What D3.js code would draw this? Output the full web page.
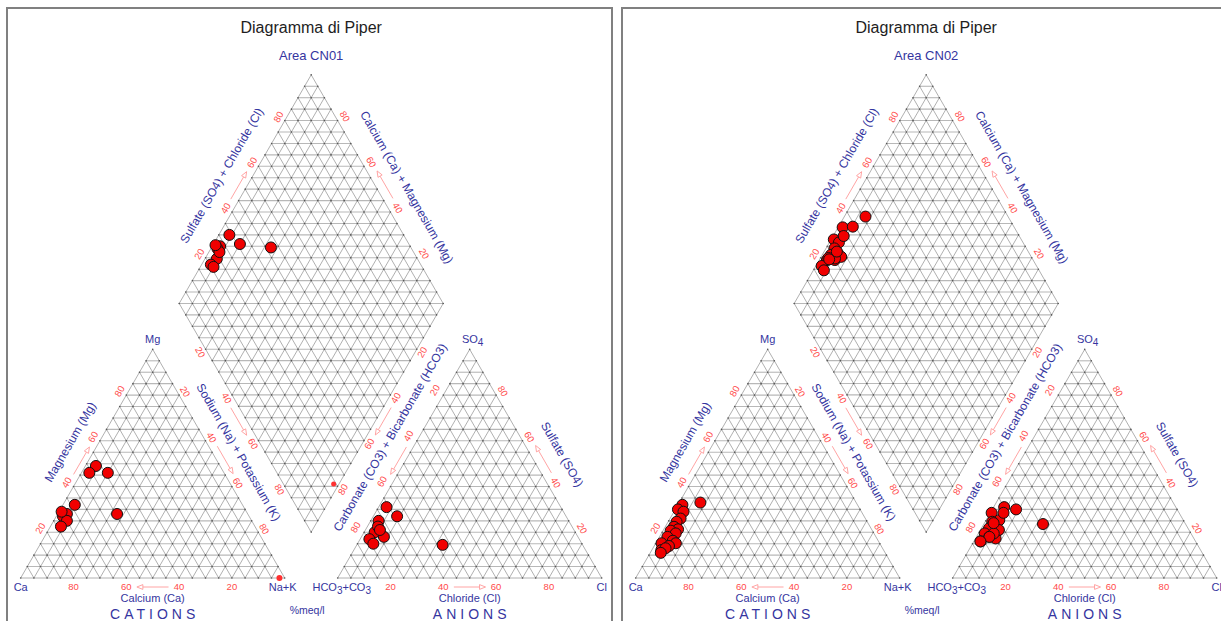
<!DOCTYPE html>
<html><head><meta charset="utf-8">
<script src="https://cdn.jsdelivr.net/npm/d3@7"></script>
<style>
body{margin:0;background:#fff}
svg{display:block}
text{font-family:Arial,"Liberation Sans",sans-serif}
</style>
</head><body>
<svg id="c" width="1221" height="621"></svg>
<script>
// ---------------- data ----------------
const mainTitle = "Diagramma di Piper";
const panelTitles = ["Area CN01", "Area CN02"];
const tickValues = [20, 40, 60, 80];

// Area CN01 samples (% meq/l)
const cn01Mg  = [49, 46, 28, 46, 32, 27, 28, 25, 22.5, 29];
const cn01NaK = [4, 10, 22.5, 3, 4.5, 2.5, 3.5, 5, 4, 1];
const cn01SO4 = [31, 27, 14.5, 25, 20, 18, 17, 15, 22.5, 21];
const cn01Cl  = [3, 9, 32.5, 3, 4, 8.5, 3.5, 6, 4, 5.5];
// incomplete CN01 record (drawn as small dots)
const cn01MinorMg  = [0];
const cn01MinorNaK = [98];
const cn01MinorSC  = [19];

// Area CN02 samples (% meq/l)
const cn02Mg  = [33, 32, 30, 29, 26, 24.6, 22.4, 21.3, 20.7, 19.5, 18, 16.3, 15.2, 15.2, 14, 12.2, 13, 11];
const cn02NaK = [8, 1.7, 1, 3.6, 4, 3.2, 3.3, 5.4, 2.9, 5.4, 3, 5.9, 7.6, 2.2, 5.6, 3.6, 4.8, 4];
const cn02SO4 = [23.6, 31, 28.5, 25.3, 28.5, 24.6, 21.7, 30, 19.5, 20.7, 18, 17.3, 21, 16, 19.5, 18, 24, 16];
const cn02Cl  = [22.4, 4, 0.5, 5, 5, 2.7, 2.9, 9, 2.4, 6.7, 4.9, 7.6, 7, 2.6, 5.8, 4.9, 3.5, 2.5];
const cn02MinorMg = [], cn02MinorNaK = [], cn02MinorSC = [];

// --------------- geometry ---------------
const svg = d3.select("#c");
const navy = "#3535a0", red = "#ff4a4a", arrowCol = "#ff9a9a";
const diagCol = "#969696", horizCol = "#b8b8b8";
const S3 = Math.sqrt(3) / 2;
const L = 264, TH = L * S3, GAP = 53;
const X0 = 20.7, Y0 = 578;
const A = [X0, Y0], B = [X0 + L, Y0], C = [X0 + L / 2, Y0 - TH];
const A2 = [X0 + L + GAP, Y0], B2 = [X0 + 2 * L + GAP, Y0], C2 = [X0 + 1.5 * L + GAP, Y0 - TH];
const DB = [X0 + L + GAP / 2, Y0 - GAP * S3];
const DL = [DB[0] - L / 2, DB[1] - TH], DR = [DB[0] + L / 2, DB[1] - TH], DT = [DB[0], DB[1] - 2 * TH];

const frac = d3.scaleLinear().domain([0, 100]).range([0, 1]);
const lerp = (P, Q, t) => [P[0] + (Q[0] - P[0]) * t, P[1] + (Q[1] - P[1]) * t];
function tern(P0, P1, P2, a1, a2) {
  const t1 = frac(a1), t2 = frac(a2);
  return [P0[0] + (P1[0] - P0[0]) * t1 + (P2[0] - P0[0]) * t2,
          P0[1] + (P1[1] - P0[1]) * t1 + (P2[1] - P0[1]) * t2];
}
const catPos = (mg, nak) => tern(A, C, B, mg, nak);
const anPos = (so4, cl) => tern(A2, C2, B2, so4, cl);
const diaPos = (nak, sc) => tern(DL, DB, DT, nak, sc);
const line = d3.line();

const NL = [-S3, -0.5], NR = [S3, -0.5], NLL = [-S3, 0.5], NLR = [S3, 0.5];

function drawPanel(ox, title, mg, nak, so4, cl, mMg, mNaK, mSC) {
  const g = svg.append("g").attr("transform", `translate(${ox},0)`);
  g.append("rect").attr("x", 7).attr("y", 8).attr("width", 605).attr("height", 640)
    .attr("fill", "#fff").attr("stroke", "#808080").attr("stroke-width", 2);

  g.append("text").attr("x", DB[0]).attr("y", 33).attr("text-anchor", "middle")
    .attr("font-size", 16).attr("fill", "#1e1e1e").text(mainTitle);
  g.append("text").attr("x", DB[0]).attr("y", 60).attr("text-anchor", "middle")
    .attr("font-size", 13).attr("fill", navy).text(title);

  // ---- grids ----
  const hgrid = g.append("g").attr("fill", "none").attr("stroke", horizCol).attr("stroke-width", 1.1);
  const grid = g.append("g").attr("fill", "none").attr("stroke", diagCol).attr("stroke-width", 0.75);
  const dots = [];
  const steps = d3.range(0, 101, 5);
  [catPos, anPos].forEach(f => {
    steps.forEach(v => {
      if (v === 100) return;
      (v === 0 ? grid : hgrid).append("path").attr("d", line([f(v, 0), f(v, 100 - v)]));
      grid.append("path").attr("d", line([f(0, v), f(100 - v, v)]));
      grid.append("path").attr("d", line([f(0, 100 - v), f(100 - v, 0)]));
    });
    steps.forEach(i => steps.forEach(j => { if (i + j <= 100) dots.push(f(i, j)); }));
  });
  steps.forEach(v => {
    grid.append("path").attr("d", line([diaPos(v, 0), diaPos(v, 100)]));
    grid.append("path").attr("d", line([diaPos(0, v), diaPos(100, v)]));
  });
  d3.range(-95, 100, 5).forEach(d => {
    const seg = d >= 0 ? [diaPos(d, 0), diaPos(100, 100 - d)] : [diaPos(0, -d), diaPos(100 + d, 100)];
    hgrid.append("path").attr("d", line(seg));
  });
  steps.forEach(i => steps.forEach(j => dots.push(diaPos(i, j))));
  g.append("g").selectAll("circle").data(dots).join("circle")
    .attr("cx", d => d[0]).attr("cy", d => d[1]).attr("r", 0.8).attr("fill", "#555");

  // ---- helpers ----
  function tickLabels(S, E, n, off, rot) {
    tickValues.forEach(v => {
      const p = lerp(S, E, frac(v));
      const x = p[0] + n[0] * off, y = p[1] + n[1] * off;
      g.append("text").attr("transform", `translate(${x},${y}) rotate(${rot})`)
        .attr("text-anchor", "middle").attr("dominant-baseline", "central")
        .attr("font-size", 9.5).attr("fill", red).text(v);
    });
  }
  function arrow(S, E, n, off) {
    const p0 = lerp(S, E, frac(44)), p1 = lerp(S, E, frac(56));
    const a = [p0[0] + n[0] * off, p0[1] + n[1] * off], b = [p1[0] + n[0] * off, p1[1] + n[1] * off];
    const dx = b[0] - a[0], dy = b[1] - a[1], len = Math.hypot(dx, dy), ux = dx / len, uy = dy / len;
    const base = [b[0] - ux * 6, b[1] - uy * 6];
    g.append("path").attr("d", line([a, base])).attr("stroke", arrowCol).attr("stroke-width", 0.9).attr("fill", "none");
    g.append("path").attr("d", line([b, [base[0] - uy * 2.4, base[1] + ux * 2.4], [base[0] + uy * 2.4, base[1] - ux * 2.4]]) + "Z")
      .attr("stroke", arrowCol).attr("stroke-width", 0.9).attr("fill", "#fff");
  }
  function axisTitle(S, E, n, v, off, rot, txt) {
    const p = lerp(S, E, frac(v));
    g.append("text").attr("transform", `translate(${p[0] + n[0] * off},${p[1] + n[1] * off}) rotate(${rot})`)
      .attr("text-anchor", "middle").attr("dominant-baseline", "central")
      .attr("font-size", 12).attr("fill", navy).text(txt);
  }
  function plain(x, y, txt, size, opts = {}) {
    const t = g.append("text").attr("x", x).attr("y", y).attr("text-anchor", "middle")
      .attr("font-size", size).attr("fill", opts.fill || navy).text(txt);
    if (opts.ls) t.attr("letter-spacing", opts.ls);
    return t;
  }

  // ---- cation triangle ----
  tickValues.forEach(v => { const p = catPos(0, 100 - v); plain(p[0], 590, v, 9.5, { fill: red }); });
  arrow(B, A, [0, 1], 9);
  tickLabels(A, C, NL, 8, -60); arrow(A, C, NL, 6);
  tickLabels(C, B, NR, 7, 60); arrow(C, B, NR, 7.5);
  axisTitle(A, C, NL, 54, 25, -60, "Magnesium (Mg)");
  axisTitle(C, B, NR, 50, 23, 60, "Sodium (Na) + Potassium (K)");
  plain(A[0], 591, "Ca", 11);
  plain(B[0] - 2, 591, "Na+K", 11);
  plain(C[0], 343, "Mg", 11);
  plain(C[0], 601.5, "Calcium (Ca)", 11);
  plain(C[0] + 2, 618.5, "CATIONS", 14, { ls: 4 });

  // ---- diamond ----
  tickLabels(DL, DB, NLL, 6, 60); arrow(DL, DB, NLL, 7.5);
  tickLabels(DL, DT, NL, 7.5, -60); arrow(DL, DT, NL, 7.5);
  tickLabels(DR, DT, NR, 8.5, 60); arrow(DR, DT, NR, 9);
  tickLabels(DR, DB, NLR, 6, -60); arrow(DR, DB, NLR, 7);
  axisTitle(DL, DT, NL, 50, 27, -60, "Sulfate (SO4) + Chloride (Cl)");
  axisTitle(DR, DT, NR, 45, 26.5, 60, "Calcium (Ca) + Magnesium (Mg)");
  axisTitle(DR, DB, NLR, 54, 21, -60, "Carbonate (CO3) + Bicarbonate (HCO3)");
  plain(DB[0] - 4, 614, "%meq/l", 10.5);

  // ---- anion triangle ----
  tickValues.forEach(v => { const p = anPos(0, v); plain(p[0], 590, v, 9.5, { fill: red }); });
  arrow(A2, B2, [0, 1], 9);
  tickLabels(C2, A2, NL, 10, -60); arrow(C2, A2, NL, 6);
  tickLabels(B2, C2, NR, 8, 60); arrow(B2, C2, NR, 9);
  axisTitle(B2, C2, NR, 48, 27.5, 60, "Sulfate (SO4)");
  const hc = g.append("text").attr("x", A2[0] + 4).attr("y", 591).attr("text-anchor", "middle")
    .attr("font-size", 11).attr("fill", navy);
  hc.append("tspan").text("HCO");
  hc.append("tspan").attr("dy", 3).attr("font-size", 10).text("3");
  hc.append("tspan").attr("dy", -3).text("+CO");
  hc.append("tspan").attr("dy", 3).attr("font-size", 10).text("3");
  plain(B2[0], 591, "Cl", 11);
  const so = g.append("text").attr("x", C2[0] + 3).attr("y", 343).attr("text-anchor", "middle")
    .attr("font-size", 11).attr("fill", navy);
  so.append("tspan").text("SO");
  so.append("tspan").attr("dy", 3).attr("font-size", 10).text("4");
  plain(A2[0] + L / 2, 601.5, "Chloride (Cl)", 11);
  plain(A2[0] + L / 2 + 2, 618.5, "ANIONS", 14, { ls: 4 });

  // ---- samples ----
  const samples = mg.map((m, i) => ({ mg: m, nak: nak[i], so4: so4[i], cl: cl[i] }));
  const pts = g.append("g");
  const minor = mMg.map((m, i) => ({ mg: m, nak: mNaK[i], sc: mSC[i] }));
  pts.selectAll("circle.mc").data(minor).join("circle").attr("class", "mc")
    .attr("cx", d => catPos(d.mg, d.nak)[0]).attr("cy", d => catPos(d.mg, d.nak)[1])
    .attr("r", 3).attr("fill", "#ff3030");
  pts.selectAll("circle.md").data(minor).join("circle").attr("class", "md")
    .attr("cx", d => diaPos(d.nak, d.sc)[0]).attr("cy", d => diaPos(d.nak, d.sc)[1])
    .attr("r", 2.5).attr("fill", "#ff3030");
  const dot = (sel, cls, f) => sel.selectAll("circle." + cls).data(samples).join("circle").attr("class", cls)
    .attr("cx", d => f(d)[0]).attr("cy", d => f(d)[1]).attr("r", 5.5)
    .attr("fill", "#f00000").attr("stroke", "#111").attr("stroke-width", 1);
  dot(pts, "c", d => catPos(d.mg, d.nak));
  dot(pts, "a", d => anPos(d.so4, d.cl));
  dot(pts, "d", d => diaPos(d.nak, d.so4 + d.cl));
}

drawPanel(0, panelTitles[0], cn01Mg, cn01NaK, cn01SO4, cn01Cl, cn01MinorMg, cn01MinorNaK, cn01MinorSC);
drawPanel(615, panelTitles[1], cn02Mg, cn02NaK, cn02SO4, cn02Cl, cn02MinorMg, cn02MinorNaK, cn02MinorSC);
</script>
</body></html>
